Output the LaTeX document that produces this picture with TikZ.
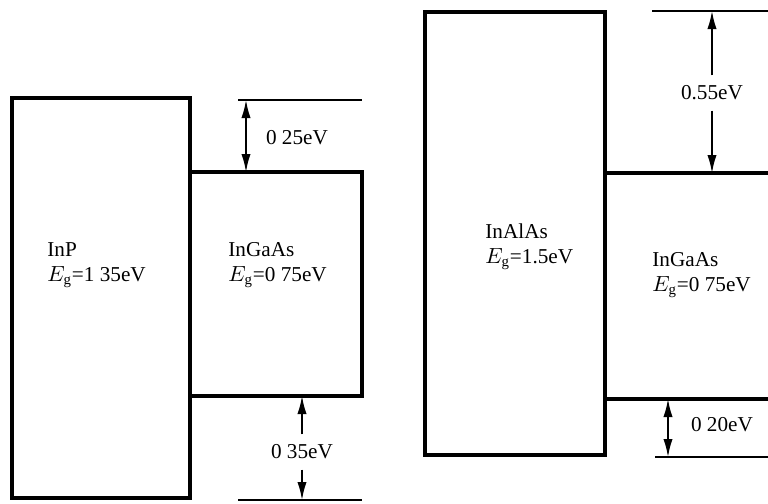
\documentclass[tikz,border=0pt]{standalone}
\usepackage{fontspec}
\setmainfont{Liberation Serif}
\usetikzlibrary{arrows.meta}
\tikzset{band/.style={line width=2pt},lvl/.style={line width=.8pt},
  lbl/.style={anchor=west,align=left,inner sep=0pt},
  gap/.style={inner sep=5pt}}

\begin{document}
\begin{tikzpicture}[x=.5pt,y=-.5pt,font=\fontsize{10.6}{12.4}\selectfont,>={Latex[length=9pt,width=4.6pt]}]
\useasboundingbox (0,0) rectangle (768,504);
% InP / InGaAs
\draw[band] (12,98) rectangle (190,498);
\draw[band] (190,172) rectangle (362,396);
\draw[lvl] (238,100)--(362,100);
\draw[lvl] (238,500)--(362,500);
\node[lbl] (inp) at (47,265) {InP\\$E_\mathrm{g}$=1 35eV};
\node[lbl] (ingaasa) at (228,265) {InGaAs\\$E_\mathrm{g}$=0 75eV};
\coordinate (a25t) at (246,100);
\coordinate (a25b) at (246,172);
\draw[<->,line width=.8pt] (a25t)--(a25b);
\node (d25) at (297,138) {0 25eV};
\coordinate (a35t) at (302,396);
\coordinate (a35b) at (302,500);
\node[gap] (d35) at (302,452) {0 35eV};
\draw[->,line width=.8pt] (d35)--(a35t);
\draw[->,line width=.8pt] (d35)--(a35b);
% InAlAs / InGaAs
\draw[band] (425,12) rectangle (605,455);
\draw[band] (605,173)--(768,173);
\draw[band] (605,399)--(768,399);
\draw[lvl] (652,11)--(768,11);
\draw[lvl] (655,457)--(768,457);
\node[lbl] (inalas) at (485,247) {InAlAs\\$E_\mathrm{g}$=1.5eV};
\node[lbl] (ingaasb) at (652,275) {InGaAs\\$E_\mathrm{g}$=0 75eV};
\coordinate (a55t) at (712,11);
\coordinate (a55b) at (712,173);
\node[gap] (d55) at (712,93) {0.55eV};
\draw[->,line width=.8pt] (d55)--(a55t);
\draw[->,line width=.8pt] (d55)--(a55b);
\coordinate (a20t) at (668,399);
\coordinate (a20b) at (668,457);
\draw[<->,line width=.8pt] (a20t)--(a20b);
\node (d20) at (722,425) {0 20eV};
\end{tikzpicture}
\end{document}
